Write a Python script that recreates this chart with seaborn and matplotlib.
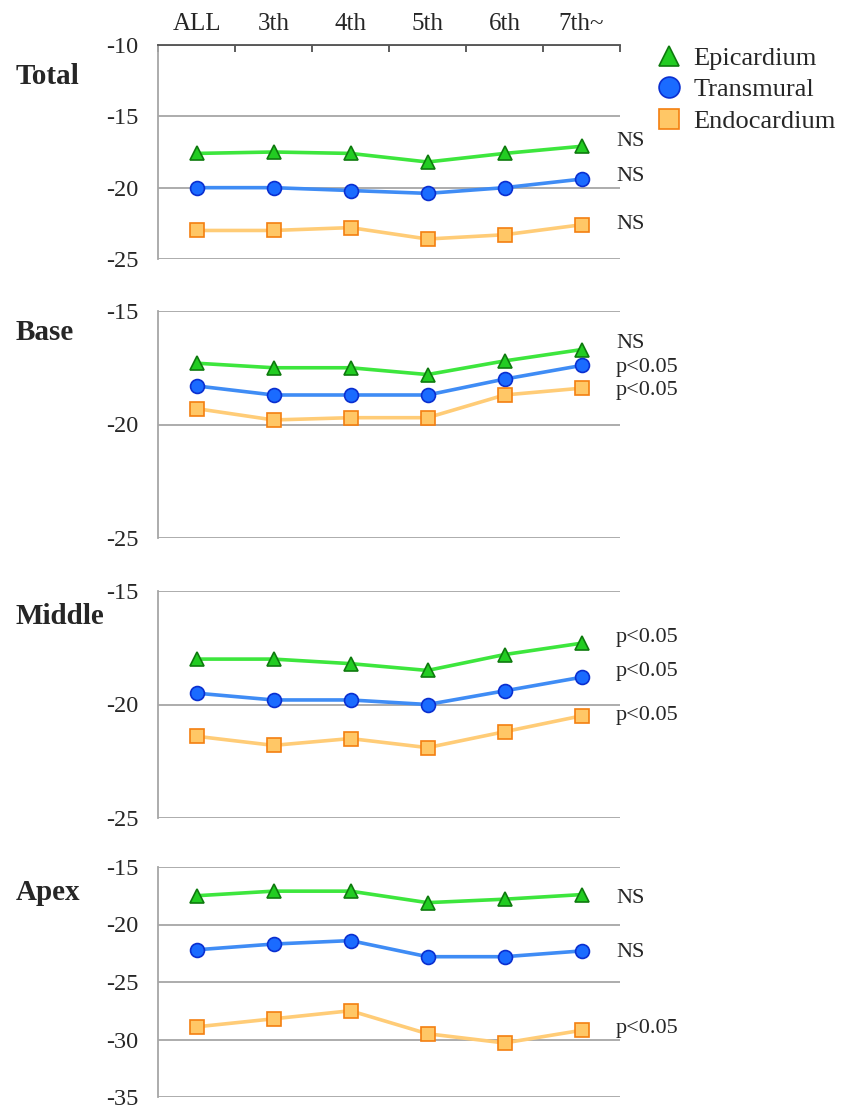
import matplotlib
matplotlib.use("Agg")
import matplotlib.pyplot as plt
from matplotlib.lines import Line2D
import seaborn as sns
import pandas as pd
import numpy as np

sns.set_style("white")
plt.rcParams['font.family'] = ['Liberation Serif', 'DejaVu Serif']

categories = ["ALL", "3th", "4th", "5th", "6th", "7th~"]
series_names = ["Epicardium", "Transmural", "Endocardium"]
panel_names = ["Total", "Base", "Middle", "Apex"]

total_epi = [-17.6, -17.5, -17.6, -18.2, -17.6, -17.1]
total_trans = [-20.0, -20.0, -20.2, -20.4, -20.0, -19.4]
total_endo = [-23.0, -23.0, -22.8, -23.6, -23.3, -22.6]

base_epi = [-17.3, -17.5, -17.5, -17.8, -17.2, -16.7]
base_trans = [-18.3, -18.7, -18.7, -18.7, -18.0, -17.4]
base_endo = [-19.3, -19.8, -19.7, -19.7, -18.7, -18.4]

middle_epi = [-18.0, -18.0, -18.2, -18.5, -17.8, -17.3]
middle_trans = [-19.5, -19.8, -19.8, -20.0, -19.4, -18.8]
middle_endo = [-21.4, -21.8, -21.5, -21.9, -21.2, -20.5]

apex_epi = [-17.5, -17.1, -17.1, -18.1, -17.8, -17.4]
apex_trans = [-22.2, -21.7, -21.4, -22.8, -22.8, -22.3]
apex_endo = [-28.9, -28.2, -27.5, -29.5, -30.3, -29.2]

total_sig = ["NS", "NS", "NS"]
base_sig = ["NS", "p<0.05", "p<0.05"]
middle_sig = ["p<0.05", "p<0.05", "p<0.05"]
apex_sig = ["NS", "NS", "p<0.05"]

total_ticks = [-10, -15, -20, -25]
base_ticks = [-15, -20, -25]
middle_ticks = [-15, -20, -25]
apex_ticks = [-15, -20, -25, -30, -35]

# label positions (data y) for the significance notes
total_sig_y = [-16.75, -19.2, -22.6]
base_sig_y = [-16.45, -17.5, -18.5]
middle_sig_y = [-17.05, -18.55, -20.5]
apex_sig_y = [-17.7, -22.4, -29.0]

panels = [
    ("Total", [total_epi, total_trans, total_endo], total_ticks, total_sig, total_sig_y),
    ("Base", [base_epi, base_trans, base_endo], base_ticks, base_sig, base_sig_y),
    ("Middle", [middle_epi, middle_trans, middle_endo], middle_ticks, middle_sig, middle_sig_y),
    ("Apex", [apex_epi, apex_trans, apex_endo], apex_ticks, apex_sig, apex_sig_y),
]

styles = {
    "Epicardium": dict(line="#3de63d", face="#22cc22", edge="#0e7a0e", marker="^", ms=10),
    "Transmural": dict(line="#3f8cf5", face="#1a6bff", edge="#0a2fd0", marker="o", ms=10),
    "Endocardium": dict(line="#ffcc77", face="#ffc766", edge="#f47f10", marker="s", ms=10),
}

W, H = 847, 1109
fig = plt.figure(figsize=(W / 100, H / 100), dpi=100)

# pixel boxes (top, bottom)
boxes = [(45, 259), (311, 538), (591, 818), (867, 1097)]
title_y = [77, 332, 617, 893]
left_px, right_px = 158, 620

grid_col = "#a6a6a6"
for i, (name, vals, ticks, sig, sig_y) in enumerate(panels):
    top, bot = boxes[i]
    ax = fig.add_axes([left_px / W, 1 - bot / H, (right_px - left_px) / W, (bot - top) / H])
    for sname, v in zip(series_names, vals):
        st = styles[sname]
        df = pd.DataFrame({"x": np.arange(len(categories)), "y": v})
        sns.lineplot(data=df, x="x", y="y", ax=ax, color=st["line"], linewidth=2.6,
                     marker=st["marker"], markersize=st["ms"], markerfacecolor=st["face"],
                     markeredgecolor=st["edge"], markeredgewidth=1.2, zorder=3,
                     clip_on=False)
    ax.set_xlim(-0.5, 5.5)
    ax.set_ylim(min(ticks), max(ticks))
    ax.set_yticks(ticks)
    ax.set_yticklabels([str(t) for t in ticks])
    ax.set_xlabel("")
    ax.set_ylabel("")
    for t in ticks:
        ax.axhline(t, color=grid_col, lw=1.3, zorder=1)
    ax.tick_params(axis="y", direction="out", length=5, width=1.2, color=grid_col,
                   labelsize=17.5, pad=9)
    ax.spines["right"].set_visible(False)
    ax.spines["bottom"].set_visible(False)
    ax.spines["left"].set_color(grid_col)
    ax.spines["left"].set_linewidth(1.3)
    if i == 0:
        ax.spines["top"].set_color("#505050")
        ax.spines["top"].set_linewidth(1.3)
        ax.xaxis.tick_top()
        ax.set_xticks(range(len(categories)))
        ax.set_xticklabels(categories)
        ax.set_xticks(np.arange(-0.5, 6.0, 1.0), minor=True)
        ax.tick_params(axis="x", which="major", length=0, labelsize=18, pad=7)
        ax.tick_params(axis="x", which="minor", direction="in", length=5, width=1.3,
                       color="#505050", top=True, bottom=False)
    else:
        ax.spines["top"].set_visible(False)
        ax.set_xticks([])
    for s, yy in zip(sig, sig_y):
        ax.text(5.45, yy, s, fontsize=16, ha="left", va="center", clip_on=False)
    fig.text(16 / W, 1 - title_y[i] / H, name, fontsize=21, fontweight="bold",
             ha="left", va="center")

handles = [Line2D([], [], linestyle="none", marker=styles[n]["marker"], markersize=15,
                  markerfacecolor=styles[n]["face"], markeredgecolor=styles[n]["edge"],
                  markeredgewidth=1.2) for n in series_names]
fig.legend(handles, series_names, loc="upper left", bbox_to_anchor=(643 / W, 1 - 36 / H),
           frameon=False, fontsize=19, handletextpad=0.3, labelspacing=0.3,
           handlelength=1.2, borderaxespad=0)

fig.savefig("out.png", dpi=100)
